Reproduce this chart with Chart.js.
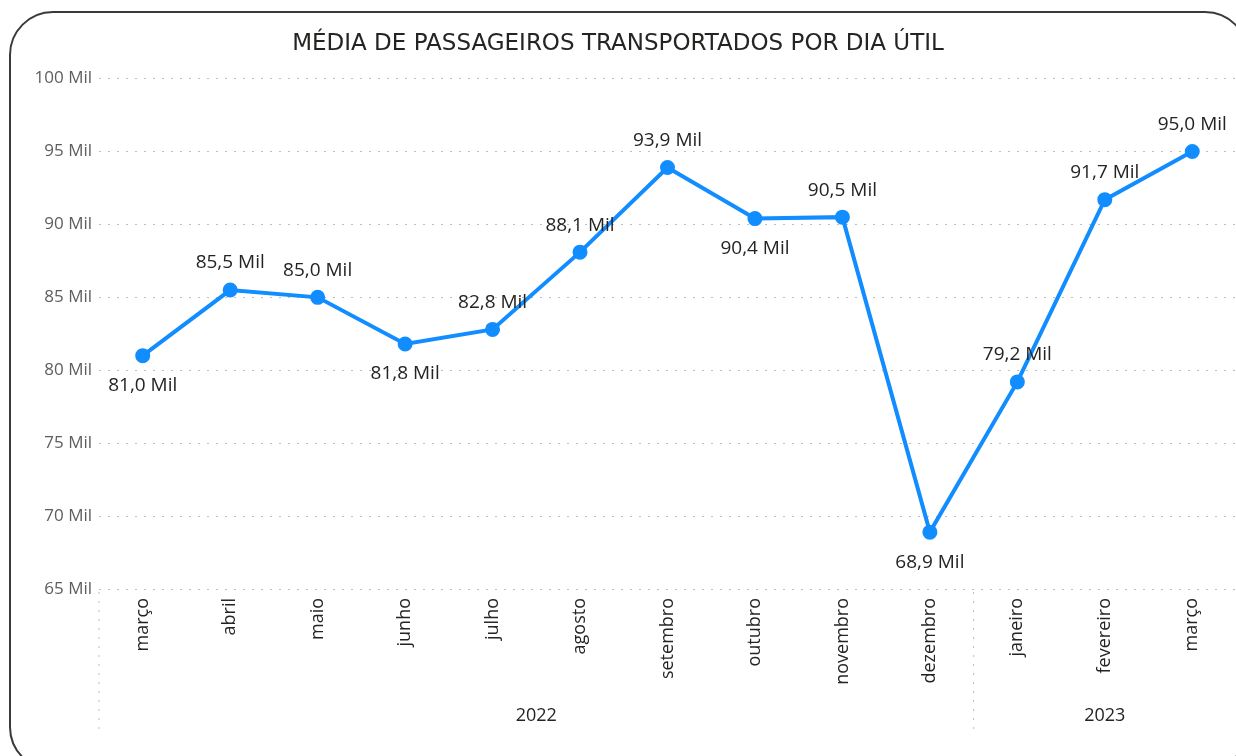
<!DOCTYPE html>
<html>
<head>
<meta charset="utf-8">
<script src="https://cdn.jsdelivr.net/npm/chart.js@4/dist/chart.umd.min.js"></script>
<style>
  html, body { margin: 0; padding: 0; background: #fff; overflow: hidden; }
  #frame {
    position: absolute; left: 9px; top: 11px; width: 1240px; height: 760px;
    border: 2px solid #3a3a3a; border-radius: 44px; box-sizing: border-box;
  }
  #wrap { position: absolute; left: 0; top: 0; width: 1236px; height: 756px; }
</style>
</head>
<body>
<div id="frame"></div>
<div id="wrap"><canvas id="myLineChart"></canvas></div>
<script>
const months = ['março', 'abril', 'maio', 'junho', 'julho', 'agosto', 'setembro',
  'outubro', 'novembro', 'dezembro', 'janeiro', 'fevereiro', 'março'];
const years = ['2022', '2022', '2022', '2022', '2022', '2022', '2022',
  '2022', '2022', '2022', '2023', '2023', '2023'];
// média em milhares de passageiros
const passengers = [81.0, 85.5, 85.0, 81.8, 82.8, 88.1, 93.9, 90.4, 90.5, 68.9, 79.2, 91.7, 95.0];
const yTicks = [65, 70, 75, 80, 85, 90, 95, 100];

const fmt = v => v.toFixed(1).replace('.', ',') + ' Mil';

// rótulos de dados: abaixo do ponto quando é mínimo local
const pointLabels = {
  id: 'pointLabels',
  afterDatasetsDraw(chart) {
    const ctx = chart.ctx;
    const meta = chart.getDatasetMeta(0);
    const d = chart.data.datasets[0].data;
    ctx.save();
    ctx.font = '19px "Open Sans"';
    ctx.fillStyle = '#252423';
    ctx.textAlign = 'center';
    ctx.textBaseline = 'middle';
    meta.data.forEach((pt, i) => {
      const prev = i > 0 ? d[i - 1] : Infinity;
      const next = i < d.length - 1 ? d[i + 1] : Infinity;
      const below = d[i] < prev && d[i] < next;
      ctx.fillText(fmt(d[i]), pt.x, below ? pt.y + 30 : pt.y - 27);
    });
    ctx.restore();
  }
};

// linha dos anos e separadores
const yearAxis = {
  id: 'yearAxis',
  afterDraw(chart) {
    const ctx = chart.ctx;
    const x = chart.scales.x;
    const half = (x.getPixelForValue(1) - x.getPixelForValue(0)) / 2;
    const top = chart.chartArea.bottom + 3;
    ctx.save();
    ctx.strokeStyle = '#c0bebc';
    ctx.setLineDash([2, 7]);
    ctx.lineWidth = 1;
    let start = 0;
    for (let i = 0; i <= years.length; i++) {
      if (i === years.length || years[i] !== years[start]) {
        const a = x.getPixelForValue(start) - half;
        ctx.beginPath();
        ctx.moveTo(a, top);
        ctx.lineTo(a, top + 140);
        ctx.stroke();
        ctx.fillStyle = '#252423';
        ctx.font = '18px "Open Sans"';
        ctx.textAlign = 'center';
        ctx.textBaseline = 'middle';
        ctx.fillText(years[start], (x.getPixelForValue(start) + x.getPixelForValue(i - 1)) / 2, 716);
        start = i;
      }
    }
    ctx.restore();
  }
};

const ctx = document.getElementById('myLineChart').getContext('2d');
const myLineChart = new Chart(ctx, {
  type: 'line',
  data: {
    labels: months,
    datasets: [{
      data: passengers,
      borderColor: '#118DFF',
      backgroundColor: '#118DFF',
      borderWidth: 4,
      pointRadius: 5.5,
      pointHoverRadius: 5.5,
      tension: 0,
      clip: false
    }]
  },
  options: {
    responsive: true,
    maintainAspectRatio: false,
    animation: false,
    layout: { autoPadding: false, padding: { top: 28, right: 0, bottom: 0, left: 0 } },
    plugins: {
      legend: { display: false },
      tooltip: { enabled: false },
      title: {
        display: true,
        text: 'MÉDIA DE PASSAGEIROS TRANSPORTADOS POR DIA ÚTIL',
        color: '#252423',
        font: { family: '"DejaVu Sans"', size: 23, weight: 'normal' },
        padding: { top: 2, bottom: 21 }
      }
    },
    scales: {
      x: {
        offset: true,
        grid: { display: false },
        border: { display: false },
        afterFit(scale) {
          scale.height = 167;
          scale.paddingLeft = 0;
          scale.paddingRight = 0;
        },
        ticks: {
          minRotation: 90,
          maxRotation: 90,
          padding: 1,
          color: '#252423',
          font: { family: '"Open Sans"', size: 18 }
        }
      },
      y: {
        min: 65,
        max: 100,
        afterBuildTicks(scale) { scale.ticks = yTicks.map(v => ({ value: v })); },
        afterFit(scale) { scale.width = 99; },
        border: { display: false },
        grid: {
          color: '#c0bebc',
          lineWidth: 1,
          drawTicks: false
        },
        ticks: {
          padding: 7,
          color: '#605E5C',
          font: { family: '"Open Sans"', size: 17 },
          callback: v => v + ' Mil'
        }
      }
    }
  },
  plugins: [pointLabels, yearAxis]
});
myLineChart.options.scales.y.border.dash = [2, 7];
myLineChart.options.scales.y.grid.borderDash = [2, 7];
myLineChart.update();
</script>
</body>
</html>
